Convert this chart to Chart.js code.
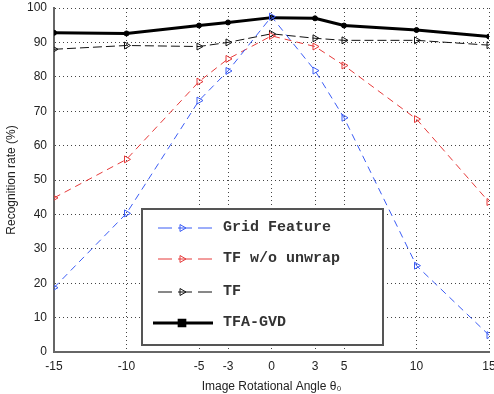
<!DOCTYPE html>
<html lang="en">
<head>
  <meta charset="UTF-8">
  <title>Recognition rate vs rotation angle</title>
  <script src="https://cdn.jsdelivr.net/npm/chart.js"></script>
  <style>
    body {
      margin: 0;
      padding: 0;
      background: #fff;
      overflow: hidden;
    }
    #wrap {
      width: 494px;
      height: 394px;
    }
  </style>
</head>
<body>
  <div id="wrap"><canvas id="chart"></canvas></div>

  <script>
    // angles (degrees) and recognition rates (%)
    const angles = [-15, -10, -5, -3, 0, 3, 5, 10, 15];
    const xTicks = [-15, -10, -5, -3, 0, 3, 5, 10, 15];

    const gridFeature = [18.7, 40.3, 73.1, 81.7, 97.5, 81.8, 68.1, 25.1, 4.9];
    const tfNoUnwrap  = [44.8, 56.0, 78.6, 85.2, 91.9, 88.8, 83.3, 67.7, 43.6];
    const tf          = [88.0, 89.1, 88.8, 90.0, 92.5, 91.2, 90.6, 90.6, 89.2];
    const tfaGvd      = [92.8, 92.6, 94.9, 95.8, 97.2, 97.0, 94.9, 93.6, 91.7];

    const seriesNames = ['Grid Feature', 'TF w/o unwrap', 'TF', 'TFA-GVD'];

    const toPoints = arr => arr.map((v, i) => ({ x: angles[i], y: v }));

    const triangle = (color, dash) => ({
      borderColor: color,
      backgroundColor: '#fff',
      borderWidth: 1,
      borderDash: dash,
      pointStyle: 'triangle',
      pointRotation: 90,
      pointRadius: 4,
      pointBorderWidth: 1,
      pointBackgroundColor: 'rgba(255,255,255,0)',
      pointBorderColor: color
    });

    const datasets = [
      Object.assign({ label: seriesNames[0], data: toPoints(gridFeature) }, triangle('#3b5cf5', [7, 5])),
      Object.assign({ label: seriesNames[1], data: toPoints(tfNoUnwrap) }, triangle('#e63a3a', [7, 5])),
      Object.assign({ label: seriesNames[2], data: toPoints(tf) }, triangle('#111', [9, 4])),
      {
        label: seriesNames[3],
        data: toPoints(tfaGvd),
        borderColor: '#000',
        backgroundColor: '#000',
        borderWidth: 3,
        pointStyle: 'circle',
        pointRadius: 2.5,
        pointBorderWidth: 1,
        pointBackgroundColor: '#000',
        pointBorderColor: '#000'
      }
    ];

    // legend box drawn inside the plot, MATLAB style
    const boxLegend = {
      id: 'boxLegend',
      afterDraw(chart) {
        const ctx = chart.ctx;
        const x0 = 142, y0 = 209, w = 241, h = 136;
        const rows = [228, 259, 292, 323];
        ctx.save();
        ctx.fillStyle = '#fff';
        ctx.fillRect(x0, y0, w, h);
        ctx.strokeStyle = '#555';
        ctx.lineWidth = 2;
        ctx.strokeRect(x0, y0, w, h);

        chart.data.datasets.forEach((ds, i) => {
          const y = rows[i];
          const solid = !ds.borderDash;
          ctx.strokeStyle = ds.borderColor;
          ctx.lineWidth = ds.borderWidth;
          ctx.setLineDash(solid ? [] : [14, 6]);
          ctx.beginPath();
          ctx.moveTo(solid ? 153 : 158, y);
          ctx.lineTo(213, y);
          ctx.stroke();
          ctx.setLineDash([]);
          ctx.fillStyle = solid ? '#000' : 'rgba(0,0,0,0)';
          ctx.strokeStyle = ds.pointBorderColor;
          Chart.helpers.drawPoint(ctx, {
            pointStyle: solid ? 'rect' : ds.pointStyle,
            rotation: ds.pointRotation || 0,
            radius: solid ? 4 : 4,
            borderWidth: 1
          }, 182, y);

          ctx.fillStyle = '#333';
          ctx.font = 'bold 15px "Liberation Mono", "DejaVu Sans Mono", monospace';
          ctx.textBaseline = 'middle';
          ctx.fillText(ds.label, 223, y - 1);
        });
        ctx.restore();
      }
    };

    const tickFont = { family: '"Liberation Sans", Arial, sans-serif', size: 12 };

    new Chart(document.getElementById('chart'), {
      type: 'line',
      data: { datasets: datasets },
      options: {
        responsive: true,
        maintainAspectRatio: false,
        animation: false,
        layout: { padding: { top: 8, right: 2, left: 0, bottom: 0 } },
        plugins: {
          legend: { display: false },
          tooltip: { enabled: false }
        },
        elements: { line: { tension: 0 } },
        scales: {
          x: {
            type: 'linear',
            min: -15,
            max: 15,
            afterBuildTicks: axis => {
              axis.ticks = xTicks.map(v => ({ value: v }));
            },
            afterFit: axis => {
              axis.height = 42;
              axis.paddingLeft = 0;
              axis.paddingRight = 0;
            },
            grid: { color: '#444', lineWidth: 1, drawTicks: false },
            border: { display: true, color: '#666', width: 2, dash: [1, 3] },
            ticks: {
              color: '#222',
              font: tickFont,
              padding: 7,
              maxRotation: 0,
              autoSkip: false
            },
            title: {
              display: true,
              text: 'Image Rotational Angle θ₀',
              color: '#222',
              font: tickFont,
              padding: { top: 1, bottom: 0 }
            }
          },
          y: {
            min: 0,
            max: 100,
            afterFit: axis => {
              axis.width = 54;
              axis.paddingTop = 0;
              axis.paddingBottom = 0;
            },
            grid: { color: '#444', lineWidth: 1, drawTicks: false },
            border: { display: true, color: '#666', width: 2, dash: [1, 3] },
            ticks: {
              stepSize: 10,
              color: '#222',
              font: tickFont,
              padding: 7
            },
            title: {
              display: true,
              text: 'Recognition rate (%)',
              color: '#222',
              font: tickFont,
              padding: { top: 4, bottom: 0 }
            }
          }
        }
      },
      plugins: [boxLegend]
    });
  </script>
</body>
</html>
